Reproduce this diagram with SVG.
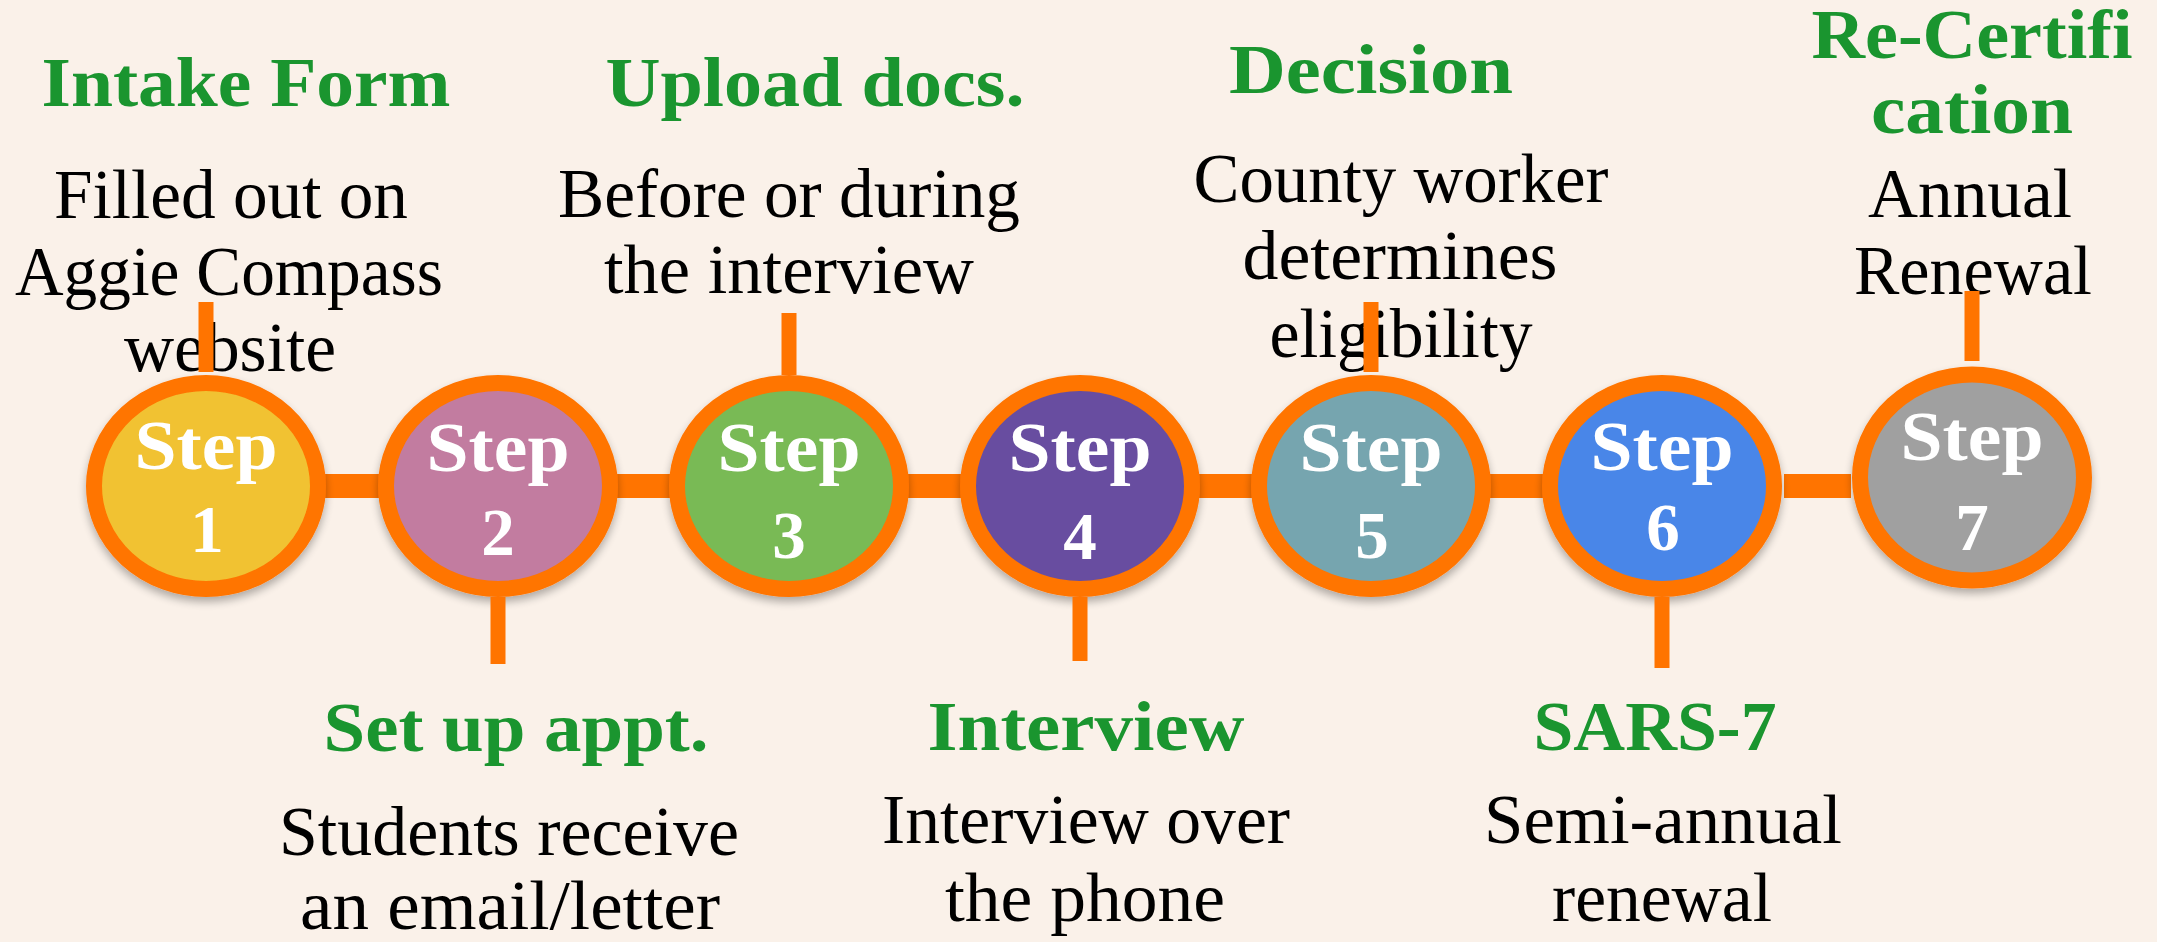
<svg xmlns="http://www.w3.org/2000/svg" width="2157" height="942" viewBox="0 0 2157 942">
  <defs>
    <filter id="drop" x="-20%" y="-20%" width="140%" height="150%">
      <feGaussianBlur in="SourceAlpha" stdDeviation="4"/>
      <feOffset dx="0" dy="5" result="blur"/>
      <feComponentTransfer><feFuncA type="linear" slope="0.3"/></feComponentTransfer>
      <feMerge><feMergeNode/><feMergeNode in="SourceGraphic"/></feMerge>
    </filter>
    <style>
      .ring { stroke: #FF7400; stroke-width: 16; filter: url(#drop); }
      .bar { fill: #FF7400; }
      .step { font-family: "Liberation Serif", "Times New Roman", serif; font-weight: bold; fill: #FFFFFF; text-anchor: middle; }
      .word { font-size: 69px; }
      .num { font-size: 67px; }
      .title { font-family: "Liberation Serif", "Times New Roman", serif; font-weight: bold; font-size: 70px; fill: #1A952F; text-anchor: middle; }
      .body { font-family: "Liberation Serif", "Times New Roman", serif; font-size: 69px; fill: #000000; text-anchor: middle; }
    </style>
  </defs>

  <!-- page -->
  <rect x="0" y="0" width="2157" height="942" fill="#FAF1E9"/>

  <!-- horizontal timeline bar behind the steps -->
  <g id="links">
    <rect class="bar" x="206" y="474" width="1456" height="24"/>
    <rect class="bar" x="1784" y="474" width="67" height="24"/>
  </g>

  <!-- step 1 -->
  <g id="step1">
    <ellipse class="ring" cx="206" cy="486" rx="112" ry="103" fill="#F1C232"/>
    <text class="step word" x="206" y="469" textLength="143" lengthAdjust="spacingAndGlyphs">Step</text>
    <text class="step num" x="207" y="552">1</text>
    <text class="title" x="246" y="106" textLength="409" lengthAdjust="spacingAndGlyphs">Intake Form</text>
    <text class="body" x="231" y="218" textLength="354" lengthAdjust="spacingAndGlyphs">Filled out on</text>
    <text class="body" x="229" y="295" textLength="428" lengthAdjust="spacingAndGlyphs">Aggie Compass</text>
    <text class="body" x="230" y="371" textLength="212" lengthAdjust="spacingAndGlyphs">website</text>
  </g>

  <!-- step 2 -->
  <g id="step2">
    <ellipse class="ring" cx="498" cy="486" rx="112" ry="103" fill="#C27BA0"/>
    <text class="step word" x="498" y="471" textLength="143" lengthAdjust="spacingAndGlyphs">Step</text>
    <text class="step num" x="498" y="555">2</text>
    <text class="title" x="516" y="751" textLength="385" lengthAdjust="spacingAndGlyphs">Set up appt.</text>
    <text class="body" x="509" y="855" textLength="460" lengthAdjust="spacingAndGlyphs">Students receive</text>
    <text class="body" x="510" y="929" textLength="420" lengthAdjust="spacingAndGlyphs">an email/letter</text>
  </g>

  <!-- step 3 -->
  <g id="step3">
    <ellipse class="ring" cx="789" cy="486" rx="112" ry="103" fill="#79BA55"/>
    <text class="step word" x="789" y="471" textLength="143" lengthAdjust="spacingAndGlyphs">Step</text>
    <text class="step num" x="789" y="558">3</text>
    <text class="title" x="815" y="106" textLength="419" lengthAdjust="spacingAndGlyphs">Upload docs.</text>
    <text class="body" x="789" y="217" textLength="462" lengthAdjust="spacingAndGlyphs">Before or during</text>
    <text class="body" x="789" y="293" textLength="370" lengthAdjust="spacingAndGlyphs">the interview</text>
  </g>

  <!-- step 4 -->
  <g id="step4">
    <ellipse class="ring" cx="1080" cy="486" rx="112" ry="103" fill="#674EA0"/>
    <text class="step word" x="1080" y="471" textLength="143" lengthAdjust="spacingAndGlyphs">Step</text>
    <text class="step num" x="1080" y="559">4</text>
    <text class="title" x="1086" y="750" textLength="317" lengthAdjust="spacingAndGlyphs">Interview</text>
    <text class="body" x="1086" y="843" textLength="408" lengthAdjust="spacingAndGlyphs">Interview over</text>
    <text class="body" x="1085" y="921" textLength="280" lengthAdjust="spacingAndGlyphs">the phone</text>
  </g>

  <!-- step 5 -->
  <g id="step5">
    <ellipse class="ring" cx="1371" cy="486" rx="112" ry="103" fill="#76A5AF"/>
    <text class="step word" x="1371" y="471" textLength="143" lengthAdjust="spacingAndGlyphs">Step</text>
    <text class="step num" x="1372" y="558">5</text>
    <text class="title" x="1371" y="93" textLength="284" lengthAdjust="spacingAndGlyphs">Decision</text>
    <text class="body" x="1401" y="202" textLength="415" lengthAdjust="spacingAndGlyphs">County worker</text>
    <text class="body" x="1400" y="279" textLength="315" lengthAdjust="spacingAndGlyphs">determines</text>
    <text class="body" x="1401" y="357" textLength="263" lengthAdjust="spacingAndGlyphs">eligibility</text>
  </g>

  <!-- step 6 -->
  <g id="step6">
    <ellipse class="ring" cx="1662" cy="486" rx="112" ry="103" fill="#4A86E8"/>
    <text class="step word" x="1662" y="470" textLength="143" lengthAdjust="spacingAndGlyphs">Step</text>
    <text class="step num" x="1663" y="550">6</text>
    <text class="title" x="1655" y="750" textLength="243" lengthAdjust="spacingAndGlyphs">SARS-7</text>
    <text class="body" x="1663" y="843" textLength="358" lengthAdjust="spacingAndGlyphs">Semi-annual</text>
    <text class="body" x="1662" y="921" textLength="220" lengthAdjust="spacingAndGlyphs">renewal</text>
  </g>

  <!-- step 7 -->
  <g id="step7">
    <ellipse class="ring" cx="1972" cy="477.5" rx="112" ry="103" fill="#A0A0A0"/>
    <text class="step word" x="1972" y="460" textLength="143" lengthAdjust="spacingAndGlyphs">Step</text>
    <text class="step num" x="1972" y="550">7</text>
    <text class="title" x="1972" y="58" textLength="321" lengthAdjust="spacingAndGlyphs">Re-Certifi</text>
    <text class="title" x="1972" y="133" textLength="202" lengthAdjust="spacingAndGlyphs">cation</text>
    <text class="body" x="1970" y="217" textLength="204" lengthAdjust="spacingAndGlyphs">Annual</text>
    <text class="body" x="1973" y="294" textLength="238" lengthAdjust="spacingAndGlyphs">Renewal</text>
  </g>

  <!-- vertical stems from each step toward its caption -->
  <g id="stems">
    <rect class="bar" x="198.5" y="302" width="15" height="70"/>
    <rect class="bar" x="490.5" y="597" width="15" height="67"/>
    <rect class="bar" x="781.5" y="313" width="15" height="62"/>
    <rect class="bar" x="1072.5" y="597" width="15" height="64"/>
    <rect class="bar" x="1363.5" y="302" width="15" height="70"/>
    <rect class="bar" x="1654.5" y="597" width="15" height="71"/>
    <rect class="bar" x="1964.5" y="291" width="15" height="70"/>
  </g>
</svg>
